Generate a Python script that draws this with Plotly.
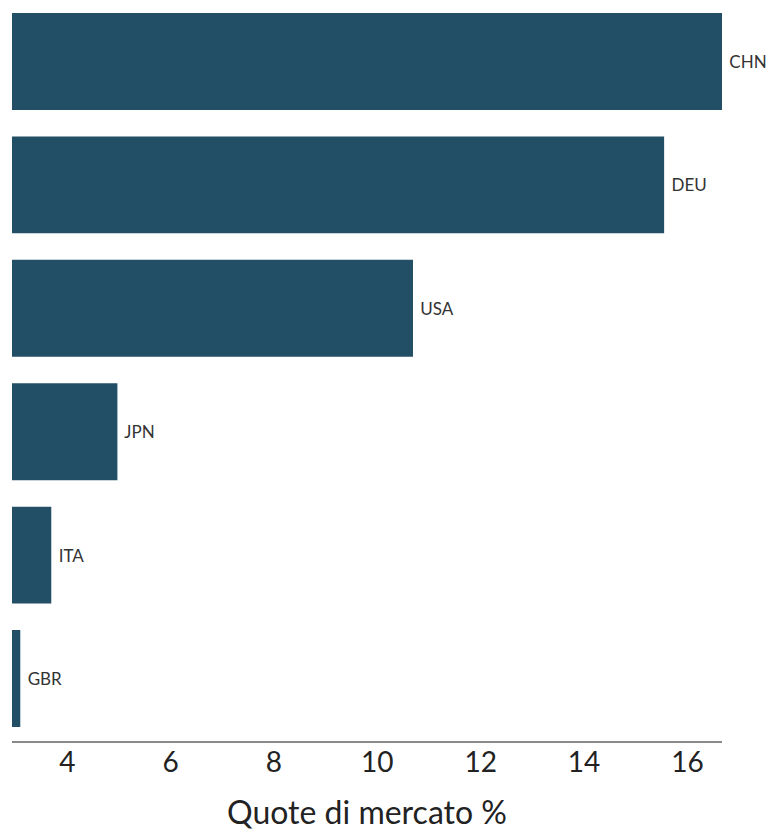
import plotly.graph_objects as go

countries = ["CHN", "DEU", "USA", "JPN", "ITA", "GBR"]
shares = [16.67, 15.55, 10.69, 4.97, 3.69, 3.09]
tick_vals = [4, 6, 8, 10, 12, 14, 16]

bar_color = "#234f66"
font_family = "Lato, 'Open Sans', sans-serif"

trace = go.Bar(
    x=shares,
    y=countries,
    orientation="h",
    marker=dict(color=bar_color, line=dict(width=0)),
    text=countries,
    texttemplate=" %{text}",
    textposition="outside",
    textfont=dict(family=font_family, size=17, color="#333333"),
    cliponaxis=False,
    hoverinfo="x+y",
)

layout = go.Layout(
    width=780,
    height=830,
    margin=dict(l=4, r=66, t=0, b=97),
    paper_bgcolor="white",
    plot_bgcolor="white",
    showlegend=False,
    bargap=0.215,
    xaxis=dict(
        range=[2.93, 16.67],
        tickvals=tick_vals,
        showgrid=False,
        zeroline=False,
        showline=True,
        linecolor="#8a8a8a",
        linewidth=1.5,
        ticks="",
        ticklabelstandoff=-4,
        tickfont=dict(family=font_family, size=28, color="#222222"),
        title=dict(text="Quote di mercato %", standoff=24,
                   font=dict(family=font_family, size=32, color="#222222")),
    ),
    yaxis=dict(
        categoryorder="array",
        categoryarray=countries[::-1],
        range=[-0.506, 5.433],
        showticklabels=False,
        showgrid=False,
        zeroline=False,
        showline=False,
        ticks="",
    ),
)

fig = go.Figure(data=[trace], layout=layout)
fig.write_html("out.html")
